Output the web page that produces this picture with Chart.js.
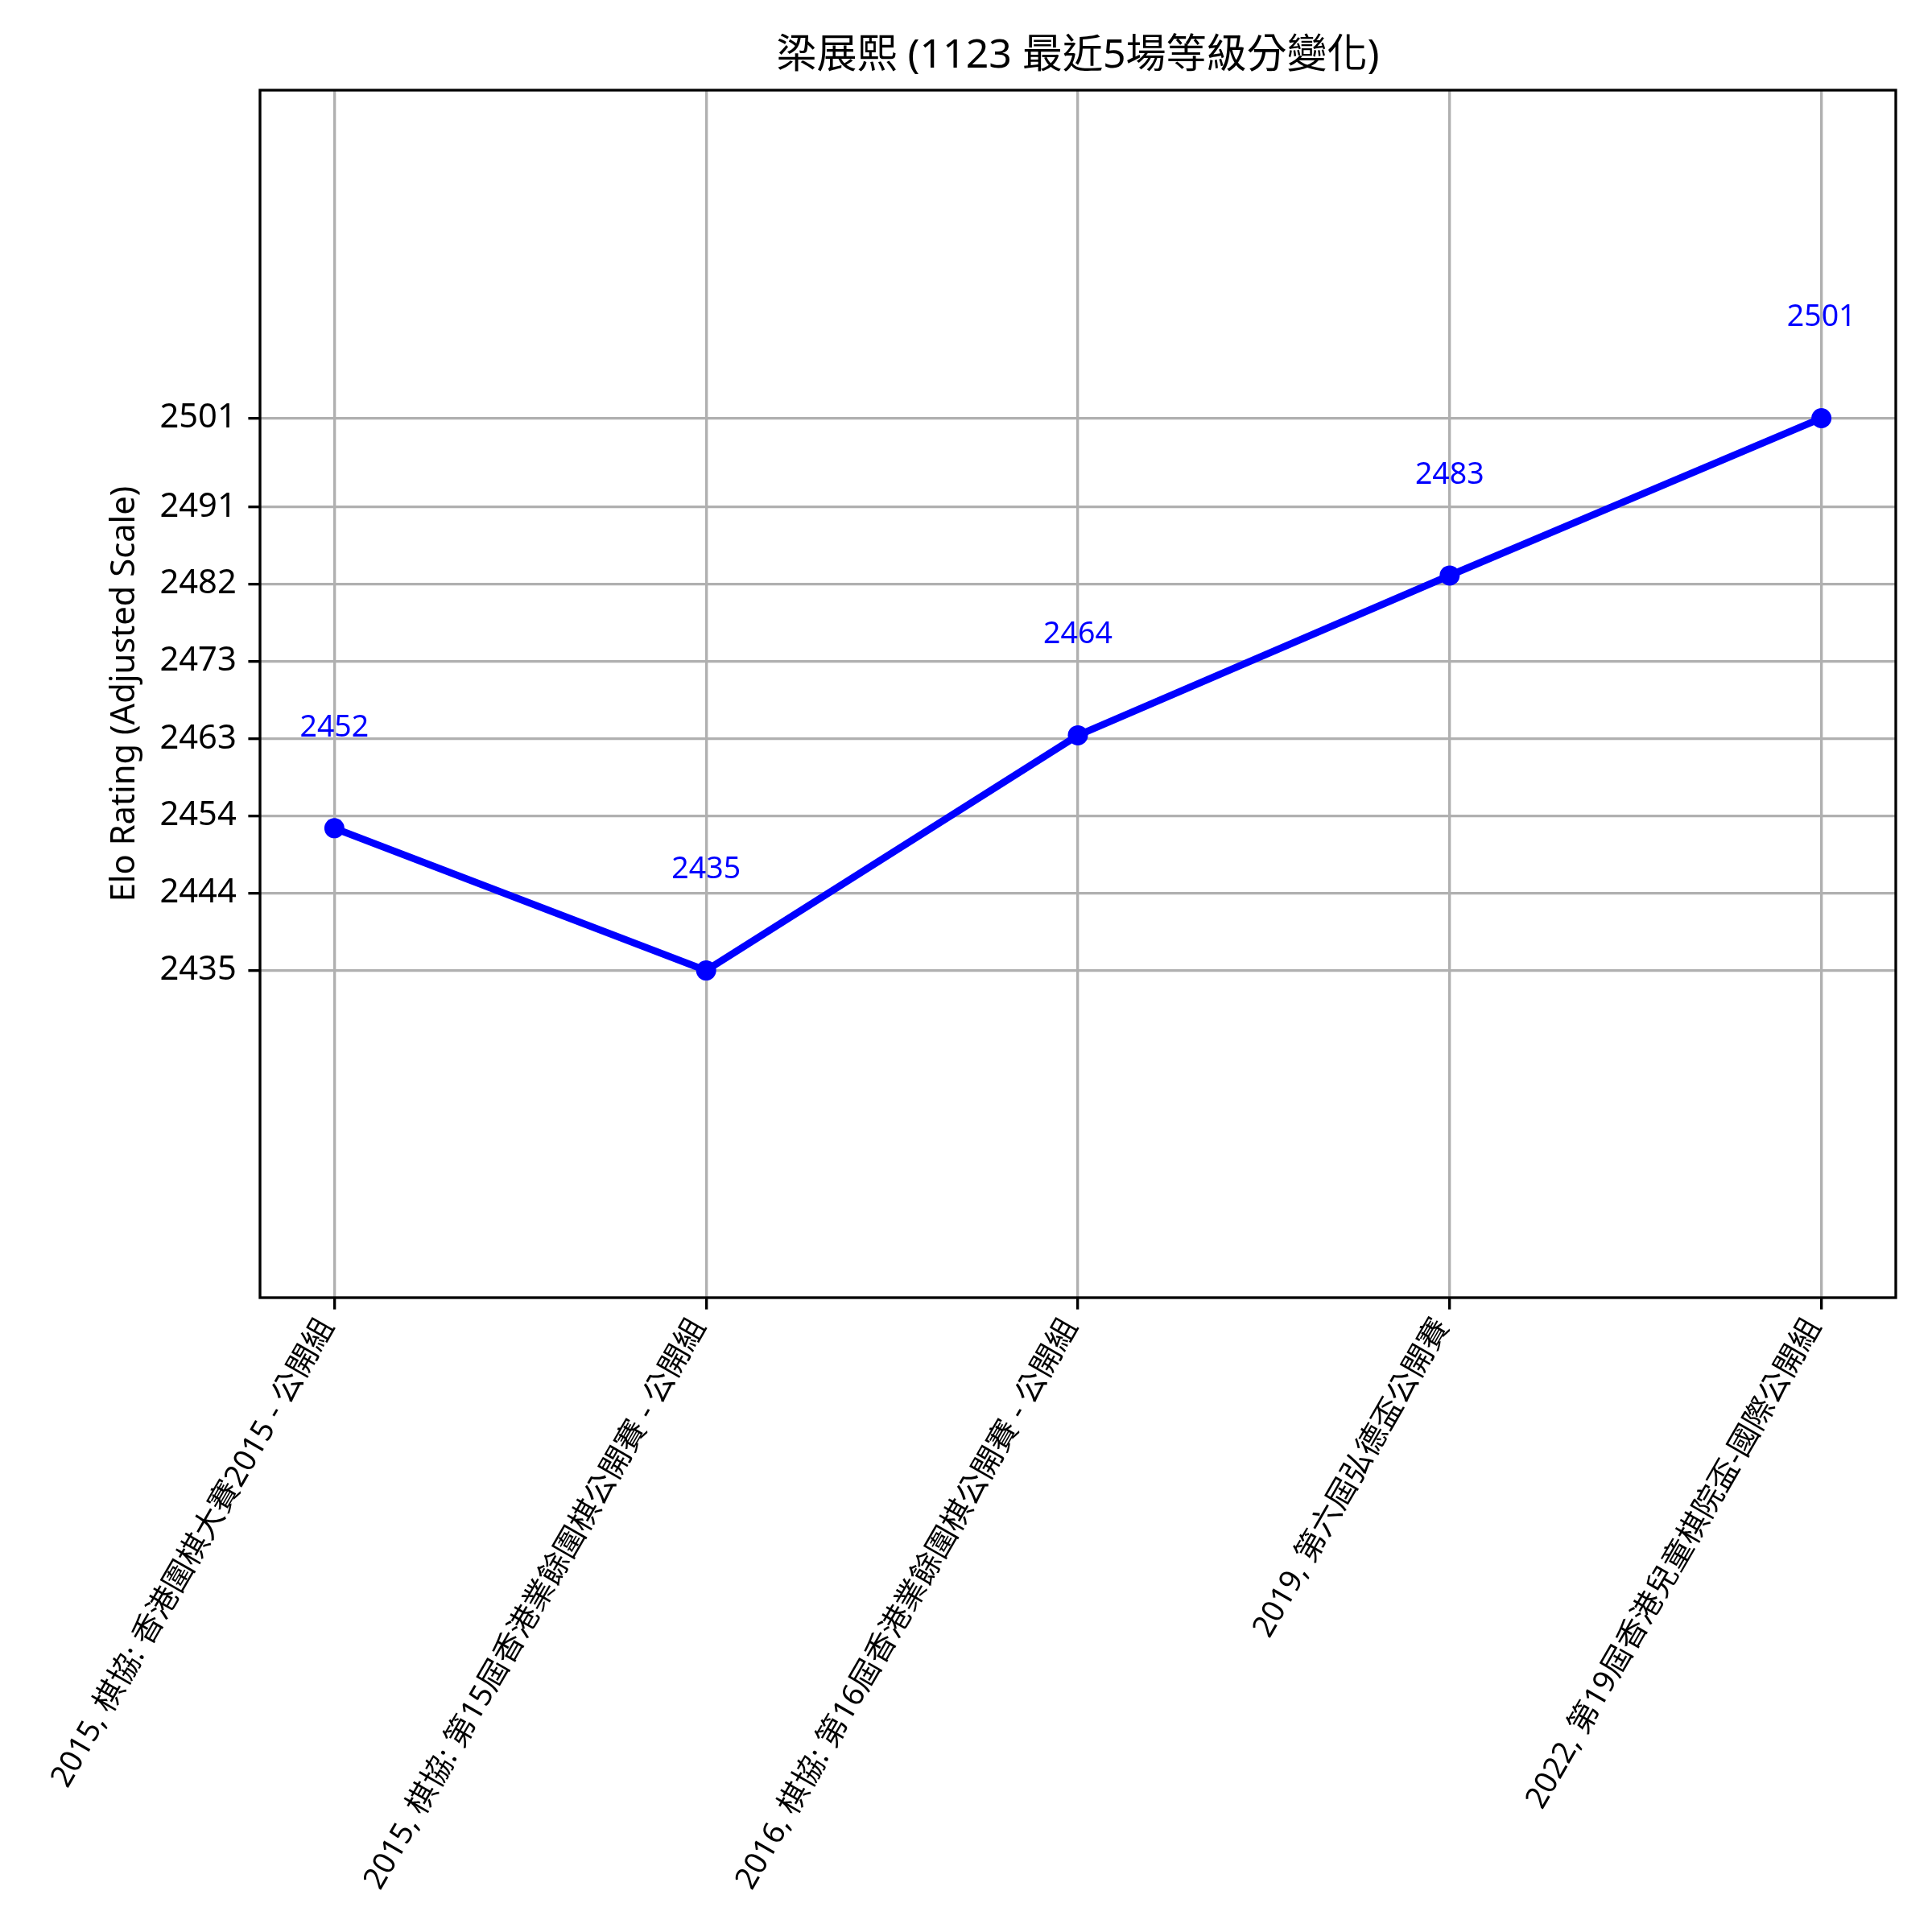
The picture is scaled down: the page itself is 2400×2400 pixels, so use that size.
<!DOCTYPE html>
<html>
<head>
<meta charset="utf-8">
<script src="https://cdn.jsdelivr.net/npm/chart.js@4.4.1/dist/chart.umd.min.js"></script>
<style>
  html, body { margin: 0; padding: 0; background: #fff; }
  #eloChart { display: block; }
</style>
</head>
<body>
<canvas id="eloChart" width="2400" height="2400"></canvas>
<script>
// les tournois (axe x)
const tournaments = [
    '2015, 棋協: 香港圍棋大賽2015 - 公開組',
    '2015, 棋協: 第15屆香港業餘圍棋公開賽 - 公開組',
    '2016, 棋協: 第16屆香港業餘圍棋公開賽 - 公開組',
    '2019, 第六屆弘德盃公開賽',
    '2022, 第19屆香港兒童棋院盃-國際公開組'
];
const positions = [0, 1, 2, 3, 4];

// valeurs tracées (échelle ajustée) et classements affichés
const plottedValues = [2452, 2435, 2463.1, 2482.2, 2501];
const ratings = [2452, 2435, 2464, 2483, 2501];

// graduations de l'axe y
const yTickValues = [2435, 2444.26, 2453.47, 2462.67, 2471.97, 2481.2, 2490.4, 2501];
const yTickLabels = ['2435', '2444', '2454', '2463', '2473', '2482', '2491', '2501'];

const chartTitle = '梁展熙 (1123 最近5場等級分變化)';
const yTitle = 'Elo Rating (Adjusted Scale)';

const FONT = "'Noto Sans', 'Noto Sans CJK TC', sans-serif";

// cadre noir autour de la zone du graphe
const framePlugin = {
    id: 'frame',
    afterDatasetsDraw(chart) {
        const { ctx, chartArea: a } = chart;
        ctx.save();
        ctx.strokeStyle = '#000';
        ctx.lineWidth = 3.33;
        ctx.strokeRect(a.left, a.top, a.right - a.left, a.bottom - a.top);
        ctx.restore();
    }
};

// étiquettes bleues au-dessus de chaque point
const valueLabels = {
    id: 'valueLabels',
    afterDraw(chart) {
        const { ctx } = chart;
        const meta = chart.getDatasetMeta(0);
        ctx.save();
        ctx.fillStyle = '#0000ff';
        ctx.font = '37.5px ' + FONT;
        ctx.textAlign = 'center';
        ctx.textBaseline = 'middle';
        meta.data.forEach((pt, i) => {
            ctx.fillText(String(ratings[i]), pt.x, pt.y - 125);
        });
        ctx.restore();
    }
};

const ctx = document.getElementById('eloChart').getContext('2d');
const eloChart = new Chart(ctx, {
    type: 'line',
    data: {
        datasets: [{
            data: positions.map((x, i) => ({ x: x, y: plottedValues[i] })),
            borderColor: '#0000ff',
            backgroundColor: '#0000ff',
            borderWidth: 8.8,
            borderJoinStyle: 'round',
            pointRadius: 12.5,
            pointHoverRadius: 12.5,
            pointBorderWidth: 0,
            pointBackgroundColor: '#0000ff',
            tension: 0,
            fill: false
        }]
    },
    options: {
        responsive: false,
        animation: false,
        devicePixelRatio: 1,
        layout: { padding: { left: 0, right: 45, top: 0, bottom: 0 } },
        plugins: {
            legend: { display: false },
            tooltip: { enabled: false },
            title: {
                display: true,
                fullSize: false,
                text: chartTitle,
                color: '#000',
                font: { family: FONT, size: 50, weight: 'normal', lineHeight: 1.2 },
                padding: { top: 40, bottom: 12 }
            }
        },
        scales: {
            x: {
                type: 'linear',
                min: -0.2,
                max: 4.2,
                afterBuildTicks: (s) => { s.ticks = positions.map(v => ({ value: v })); },
                afterFit: (s) => { s.height = 788; s.paddingLeft = 0; s.paddingRight = 0; },
                ticks: {
                    callback: (v, i) => tournaments[i],
                    minRotation: 60,
                    maxRotation: 60,
                    autoSkip: false,
                    padding: 4,
                    labelOffset: -9,
                    color: '#000',
                    font: { family: FONT, size: 38 }
                },
                grid: { color: '#b0b0b0', lineWidth: 3.33, tickColor: '#000', tickWidth: 3.33, tickLength: 14.6 },
                border: { display: false }
            },
            y: {
                type: 'linear',
                min: 2395.9,
                max: 2540.2,
                afterBuildTicks: (s) => { s.ticks = yTickValues.map(v => ({ value: v })); },
                afterFit: (s) => { s.width = 323; s.paddingTop = 0; s.paddingBottom = 0; },
                ticks: {
                    callback: (v, i) => yTickLabels[i],
                    padding: 14.6,
                    color: '#000',
                    font: { family: FONT, size: 41.7 }
                },
                grid: { color: '#b0b0b0', lineWidth: 3.33, tickColor: '#000', tickWidth: 3.33, tickLength: 14.6 },
                border: { display: false },
                title: {
                    display: true,
                    text: yTitle,
                    color: '#000',
                    font: { family: FONT, size: 41.7, lineHeight: 1 },
                    padding: { top: 134, bottom: 0 }
                }
            }
        }
    },
    plugins: [framePlugin, valueLabels]
});
</script>
</body>
</html>
